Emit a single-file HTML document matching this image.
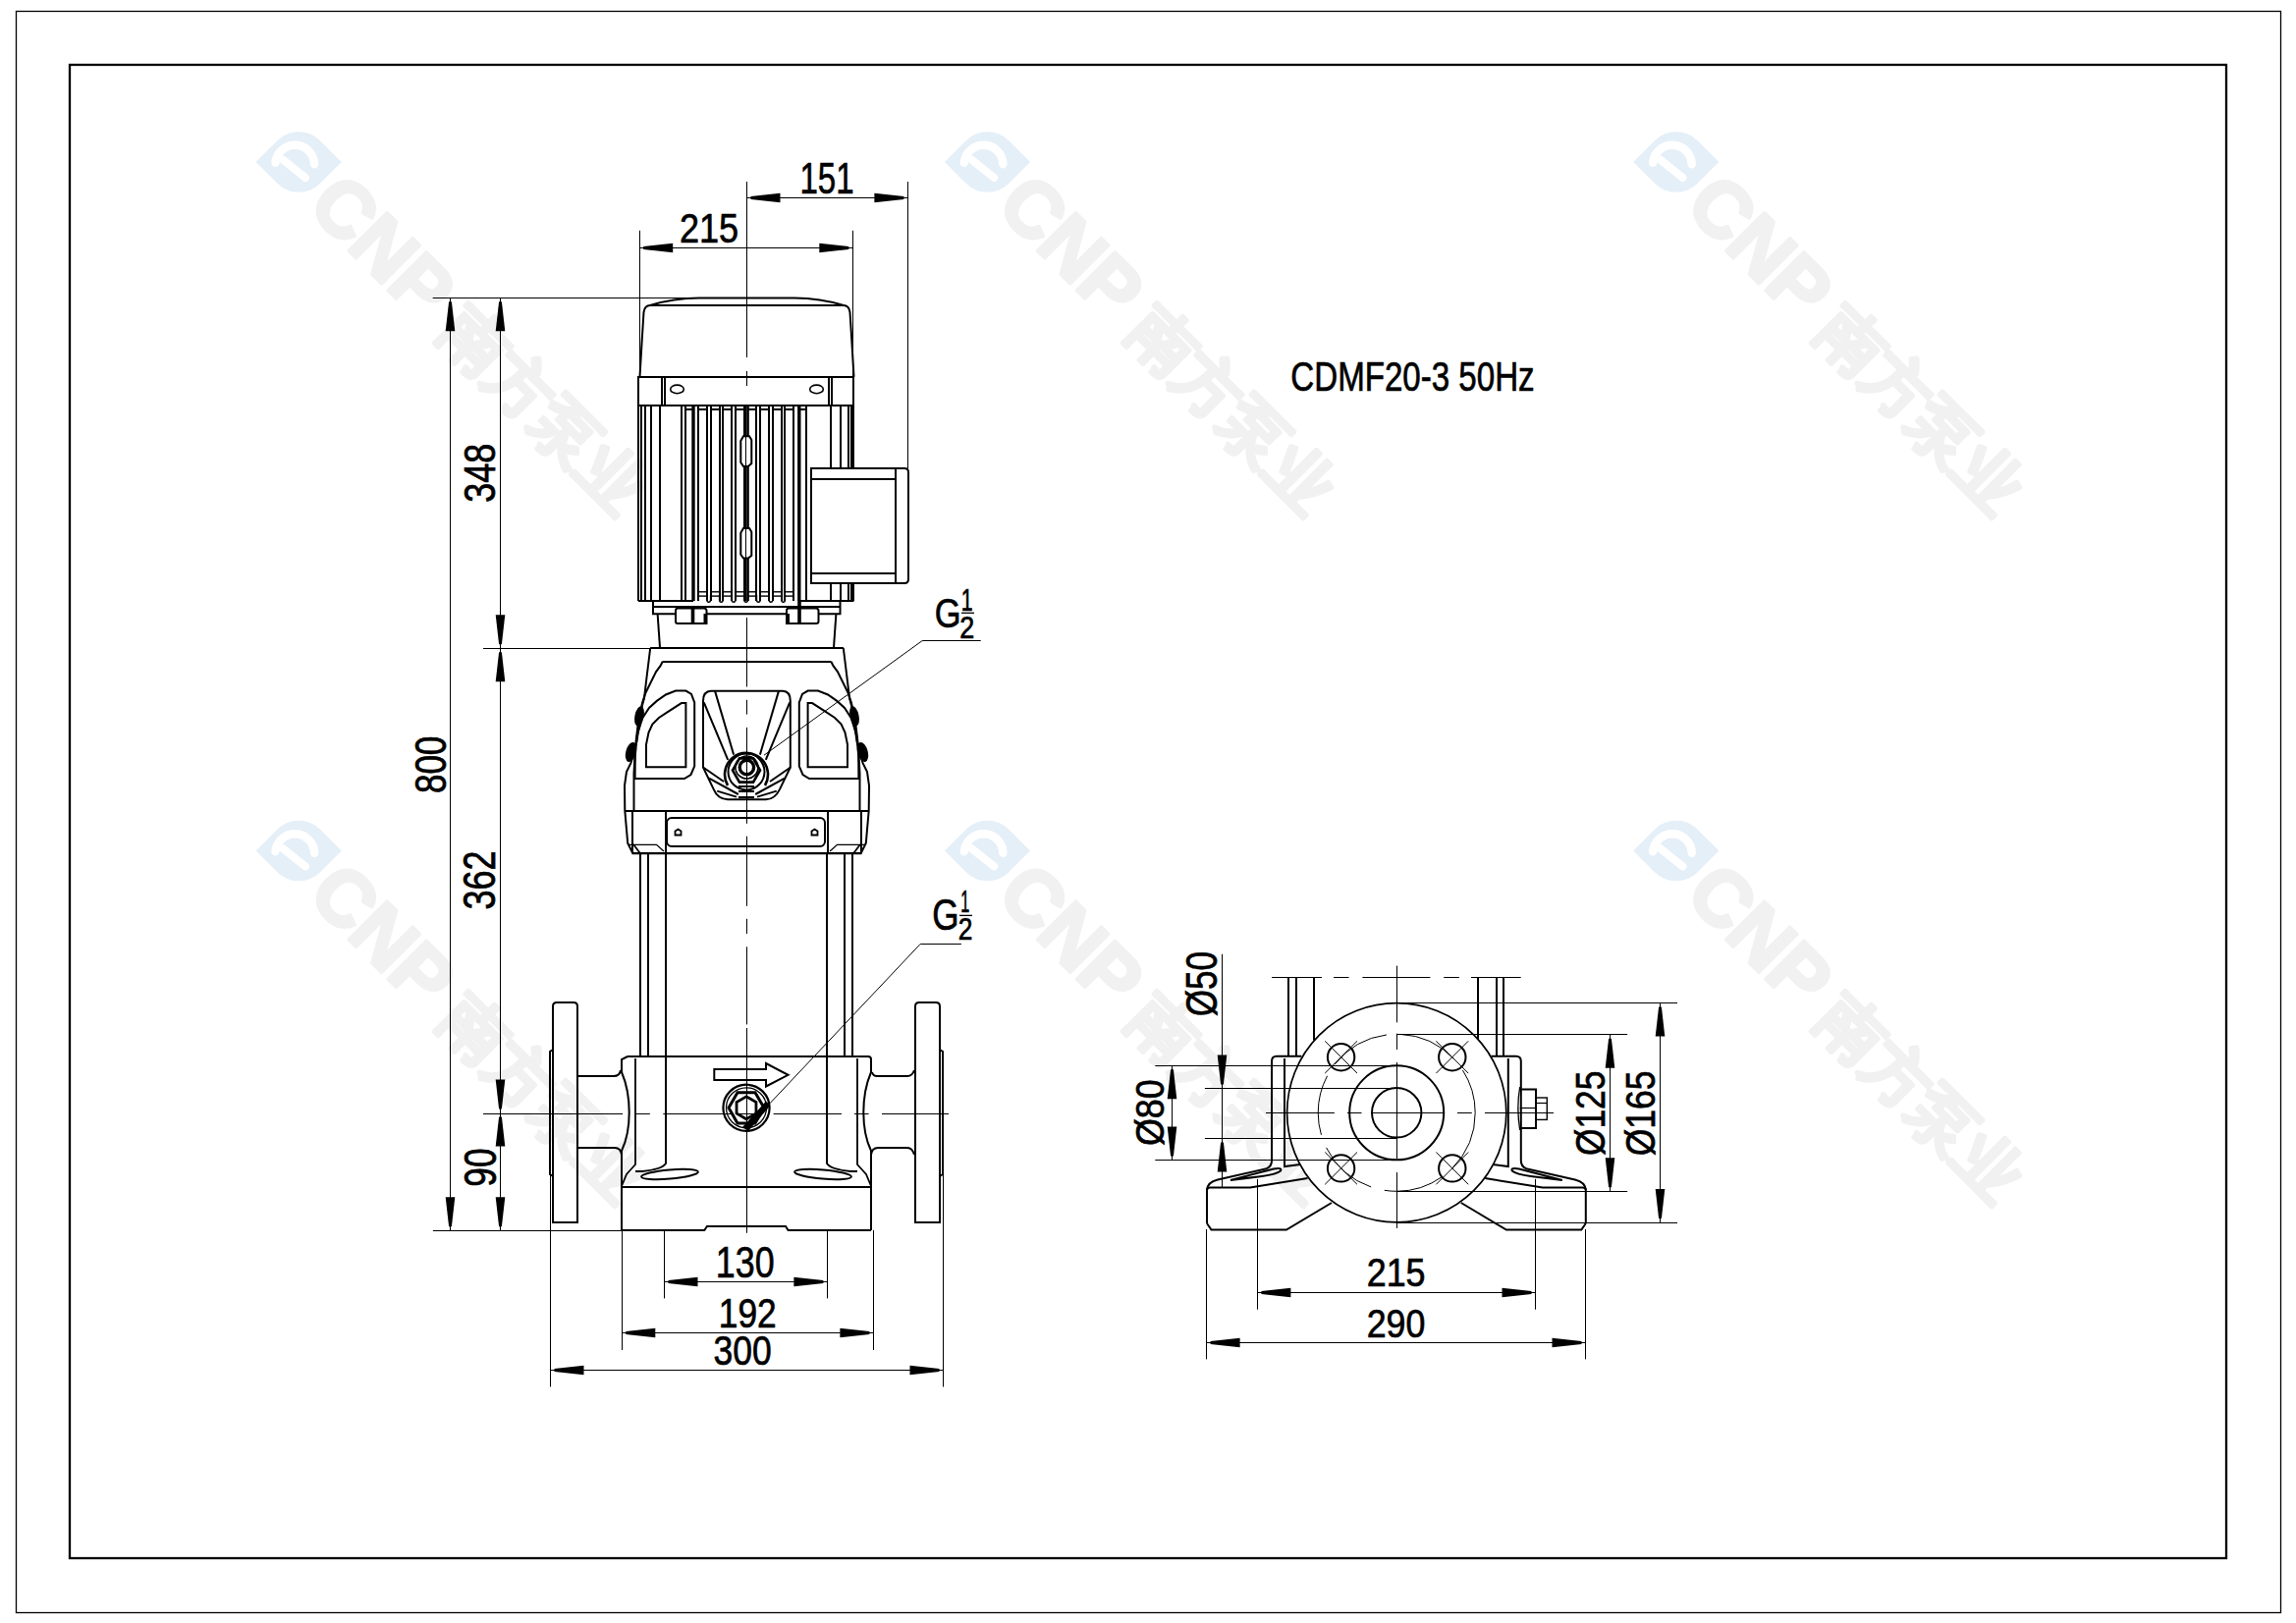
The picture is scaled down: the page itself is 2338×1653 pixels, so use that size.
<!DOCTYPE html>
<html><head><meta charset="utf-8"><style>
html,body{margin:0;padding:0;background:#fff;width:2338px;height:1653px;overflow:hidden}
svg{display:block}
</style></head><body>
<svg width="2338" height="1653" viewBox="0 0 2338 1653">
<rect width="2338" height="1653" fill="#fff"/>
<g transform="translate(304.2,165) rotate(45)">
<path d="M-30.8,30.8 L-30.8,0 A30.8,30.8 0 0 1 0,-30.8 L30.8,-30.8 L30.8,0 A30.8,30.8 0 0 1 0,30.8 Z" fill="#e4eff8" stroke="none"/>
<text x="38" y="28" font-family="Liberation Sans" font-weight="bold" font-size="80" fill="#f1f1f1" stroke="#f1f1f1" stroke-width="3.5" stroke-linejoin="round" letter-spacing="-1">CNP</text>
<text x="222" y="25" font-family="Liberation Sans" font-weight="bold" font-size="66" fill="#f1f1f1" stroke="#f1f1f1" stroke-width="3.5" stroke-linejoin="round">南方泵业</text>
</g>
<g transform="translate(304.2,165)">
<path d="M-23.7,0.7 A19.85,19.85 0 0 1 15.9,2.2" stroke="#fff" stroke-width="8.5" stroke-linecap="round" fill="none"/>
<path d="M-15.9,-2.2 L6.65,15.9" stroke="#fff" stroke-width="8.1" stroke-linecap="round" fill="none"/>
</g>
<g transform="translate(1005.5,165) rotate(45)">
<path d="M-30.8,30.8 L-30.8,0 A30.8,30.8 0 0 1 0,-30.8 L30.8,-30.8 L30.8,0 A30.8,30.8 0 0 1 0,30.8 Z" fill="#e4eff8" stroke="none"/>
<text x="38" y="28" font-family="Liberation Sans" font-weight="bold" font-size="80" fill="#f1f1f1" stroke="#f1f1f1" stroke-width="3.5" stroke-linejoin="round" letter-spacing="-1">CNP</text>
<text x="222" y="25" font-family="Liberation Sans" font-weight="bold" font-size="66" fill="#f1f1f1" stroke="#f1f1f1" stroke-width="3.5" stroke-linejoin="round">南方泵业</text>
</g>
<g transform="translate(1005.5,165)">
<path d="M-23.7,0.7 A19.85,19.85 0 0 1 15.9,2.2" stroke="#fff" stroke-width="8.5" stroke-linecap="round" fill="none"/>
<path d="M-15.9,-2.2 L6.65,15.9" stroke="#fff" stroke-width="8.1" stroke-linecap="round" fill="none"/>
</g>
<g transform="translate(1706.8,165) rotate(45)">
<path d="M-30.8,30.8 L-30.8,0 A30.8,30.8 0 0 1 0,-30.8 L30.8,-30.8 L30.8,0 A30.8,30.8 0 0 1 0,30.8 Z" fill="#e4eff8" stroke="none"/>
<text x="38" y="28" font-family="Liberation Sans" font-weight="bold" font-size="80" fill="#f1f1f1" stroke="#f1f1f1" stroke-width="3.5" stroke-linejoin="round" letter-spacing="-1">CNP</text>
<text x="222" y="25" font-family="Liberation Sans" font-weight="bold" font-size="66" fill="#f1f1f1" stroke="#f1f1f1" stroke-width="3.5" stroke-linejoin="round">南方泵业</text>
</g>
<g transform="translate(1706.8,165)">
<path d="M-23.7,0.7 A19.85,19.85 0 0 1 15.9,2.2" stroke="#fff" stroke-width="8.5" stroke-linecap="round" fill="none"/>
<path d="M-15.9,-2.2 L6.65,15.9" stroke="#fff" stroke-width="8.1" stroke-linecap="round" fill="none"/>
</g>
<g transform="translate(304.2,866.5) rotate(45)">
<path d="M-30.8,30.8 L-30.8,0 A30.8,30.8 0 0 1 0,-30.8 L30.8,-30.8 L30.8,0 A30.8,30.8 0 0 1 0,30.8 Z" fill="#e4eff8" stroke="none"/>
<text x="38" y="28" font-family="Liberation Sans" font-weight="bold" font-size="80" fill="#f1f1f1" stroke="#f1f1f1" stroke-width="3.5" stroke-linejoin="round" letter-spacing="-1">CNP</text>
<text x="222" y="25" font-family="Liberation Sans" font-weight="bold" font-size="66" fill="#f1f1f1" stroke="#f1f1f1" stroke-width="3.5" stroke-linejoin="round">南方泵业</text>
</g>
<g transform="translate(304.2,866.5)">
<path d="M-23.7,0.7 A19.85,19.85 0 0 1 15.9,2.2" stroke="#fff" stroke-width="8.5" stroke-linecap="round" fill="none"/>
<path d="M-15.9,-2.2 L6.65,15.9" stroke="#fff" stroke-width="8.1" stroke-linecap="round" fill="none"/>
</g>
<g transform="translate(1005.5,866.5) rotate(45)">
<path d="M-30.8,30.8 L-30.8,0 A30.8,30.8 0 0 1 0,-30.8 L30.8,-30.8 L30.8,0 A30.8,30.8 0 0 1 0,30.8 Z" fill="#e4eff8" stroke="none"/>
<text x="38" y="28" font-family="Liberation Sans" font-weight="bold" font-size="80" fill="#f1f1f1" stroke="#f1f1f1" stroke-width="3.5" stroke-linejoin="round" letter-spacing="-1">CNP</text>
<text x="222" y="25" font-family="Liberation Sans" font-weight="bold" font-size="66" fill="#f1f1f1" stroke="#f1f1f1" stroke-width="3.5" stroke-linejoin="round">南方泵业</text>
</g>
<g transform="translate(1005.5,866.5)">
<path d="M-23.7,0.7 A19.85,19.85 0 0 1 15.9,2.2" stroke="#fff" stroke-width="8.5" stroke-linecap="round" fill="none"/>
<path d="M-15.9,-2.2 L6.65,15.9" stroke="#fff" stroke-width="8.1" stroke-linecap="round" fill="none"/>
</g>
<g transform="translate(1706.8,866.5) rotate(45)">
<path d="M-30.8,30.8 L-30.8,0 A30.8,30.8 0 0 1 0,-30.8 L30.8,-30.8 L30.8,0 A30.8,30.8 0 0 1 0,30.8 Z" fill="#e4eff8" stroke="none"/>
<text x="38" y="28" font-family="Liberation Sans" font-weight="bold" font-size="80" fill="#f1f1f1" stroke="#f1f1f1" stroke-width="3.5" stroke-linejoin="round" letter-spacing="-1">CNP</text>
<text x="222" y="25" font-family="Liberation Sans" font-weight="bold" font-size="66" fill="#f1f1f1" stroke="#f1f1f1" stroke-width="3.5" stroke-linejoin="round">南方泵业</text>
</g>
<g transform="translate(1706.8,866.5)">
<path d="M-23.7,0.7 A19.85,19.85 0 0 1 15.9,2.2" stroke="#fff" stroke-width="8.5" stroke-linecap="round" fill="none"/>
<path d="M-15.9,-2.2 L6.65,15.9" stroke="#fff" stroke-width="8.1" stroke-linecap="round" fill="none"/>
</g>
<g stroke="#000" fill="none" stroke-linecap="butt" font-family="Liberation Sans" >
<rect x="16.5" y="11.5" width="2306" height="1631" fill="none" stroke="#000" stroke-width="1.3"/>
<rect x="71" y="66" width="2196" height="1521" fill="none" stroke="#000" stroke-width="2.3"/>
<g fill="#000" stroke="none">
<text fill="#000" stroke="#000" stroke-width="0.7" transform="translate(1314.32,398.39) scale(0.7945,1)" font-size="41.67" >CDMF20-3 50Hz</text>
</g>
</g>
<g stroke="#000" fill="none" font-family="Liberation Sans">
<path d="M651.5,383.7 L653.5,350 L655.5,318 Q656.5,311 662,311 L859,311 Q864.5,311 865.5,318 L867.5,350 L869.5,383.7" stroke-width="2" fill="none" />
<path d="M662,311 C676,306.5 690,303.4 712,303.4 L809,303.4 C831,303.4 845,306.5 859,311" stroke-width="2" fill="none" />
<rect x="650" y="384" width="219" height="29" rx="0" stroke-width="2" fill="none" />
<line x1="674" y1="383.7" x2="674" y2="413" stroke-width="2" />
<line x1="677" y1="383.7" x2="677" y2="413" stroke-width="2" />
<line x1="844" y1="383.7" x2="844" y2="413" stroke-width="2" />
<line x1="847" y1="383.7" x2="847" y2="413" stroke-width="2" />
<ellipse cx="689.5" cy="396.4" rx="6.8" ry="4.3" fill="none" stroke-width="1.6"/>
<ellipse cx="831.5" cy="396.4" rx="6.8" ry="4.3" fill="none" stroke-width="1.6"/>
<line x1="650" y1="413" x2="650" y2="612" stroke-width="2" />
<line x1="869" y1="413" x2="869" y2="612" stroke-width="2" />
<line x1="650" y1="612" x2="706" y2="612" stroke-width="2" />
<line x1="813.8" y1="612" x2="869.4" y2="612" stroke-width="2" />
<line x1="653" y1="413" x2="653" y2="612" stroke-width="2" />
<line x1="657" y1="413" x2="657" y2="612" stroke-width="2" />
<line x1="663" y1="413" x2="663" y2="612" stroke-width="2" />
<line x1="672" y1="413" x2="672" y2="612" stroke-width="2" />
<line x1="694" y1="413" x2="694" y2="612" stroke-width="2" />
<line x1="698" y1="413" x2="698" y2="612" stroke-width="2" />
<line x1="706" y1="413" x2="706" y2="612" stroke-width="3.4" />
<line x1="846" y1="413" x2="846" y2="477" stroke-width="2" />
<line x1="846" y1="594" x2="846" y2="612" stroke-width="2" />
<line x1="856" y1="413" x2="856" y2="477" stroke-width="2" />
<line x1="856" y1="594" x2="856" y2="612" stroke-width="2" />
<line x1="864" y1="413" x2="864" y2="477" stroke-width="2" />
<line x1="864" y1="594" x2="864" y2="612" stroke-width="2" />
<line x1="867" y1="413" x2="867" y2="477" stroke-width="2" />
<line x1="867" y1="594" x2="867" y2="612" stroke-width="2" />
<line x1="813.8" y1="413" x2="813.8" y2="612" stroke-width="3.4" />
<line x1="821" y1="413" x2="821" y2="612" stroke-width="2" />
<line x1="711" y1="413" x2="711" y2="612" stroke-width="2" />
<line x1="720" y1="413" x2="720" y2="612" stroke-width="2" />
<line x1="710.9" y1="417" x2="719.9" y2="417" stroke-width="2" />
<line x1="710.9" y1="602.8" x2="719.9" y2="602.8" stroke-width="1.4" />
<line x1="710.9" y1="607.1" x2="719.9" y2="607.1" stroke-width="1.4" />
<path d="M719.9,606 L719.9,611 Q719.9,613.3 721.9,613.3 L721.55,613.3 Q723.55,613.3 723.55,611 L723.55,606" stroke-width="1.4" fill="none" />
<line x1="724" y1="413" x2="724" y2="612" stroke-width="2" />
<line x1="733" y1="413" x2="733" y2="612" stroke-width="2" />
<line x1="723.55" y1="417" x2="732.55" y2="417" stroke-width="2" />
<line x1="723.55" y1="602.8" x2="732.55" y2="602.8" stroke-width="1.4" />
<line x1="723.55" y1="607.1" x2="732.55" y2="607.1" stroke-width="1.4" />
<path d="M732.55,606 L732.55,611 Q732.55,613.3 734.55,613.3 L734.2,613.3 Q736.2,613.3 736.2,611 L736.2,606" stroke-width="1.4" fill="none" />
<line x1="736" y1="413" x2="736" y2="612" stroke-width="2" />
<line x1="745" y1="413" x2="745" y2="612" stroke-width="2" />
<line x1="736.2" y1="417" x2="745.2" y2="417" stroke-width="2" />
<line x1="736.2" y1="602.8" x2="745.2" y2="602.8" stroke-width="1.4" />
<line x1="736.2" y1="607.1" x2="745.2" y2="607.1" stroke-width="1.4" />
<path d="M745.2,606 L745.2,611 Q745.2,613.3 747.2,613.3 L746.85,613.3 Q748.85,613.3 748.85,611 L748.85,606" stroke-width="1.4" fill="none" />
<line x1="749" y1="413" x2="749" y2="612" stroke-width="2" />
<line x1="758" y1="413" x2="758" y2="612" stroke-width="2" />
<line x1="748.85" y1="417" x2="757.85" y2="417" stroke-width="2" />
<line x1="748.85" y1="602.8" x2="757.85" y2="602.8" stroke-width="1.4" />
<line x1="748.85" y1="607.1" x2="757.85" y2="607.1" stroke-width="1.4" />
<path d="M757.85,606 L757.85,611 Q757.85,613.3 759.85,613.3 L759.5,613.3 Q761.5,613.3 761.5,611 L761.5,606" stroke-width="1.4" fill="none" />
<line x1="761.5" y1="413" x2="761.5" y2="612" stroke-width="2.6" />
<line x1="770" y1="413" x2="770" y2="612" stroke-width="2" />
<line x1="761.5" y1="417" x2="770.5" y2="417" stroke-width="2" />
<line x1="761.5" y1="602.8" x2="770.5" y2="602.8" stroke-width="1.4" />
<line x1="761.5" y1="607.1" x2="770.5" y2="607.1" stroke-width="1.4" />
<path d="M770.5,606 L770.5,611 Q770.5,613.3 772.5,613.3 L772.15,613.3 Q774.15,613.3 774.15,611 L774.15,606" stroke-width="1.4" fill="none" />
<line x1="774" y1="413" x2="774" y2="612" stroke-width="2" />
<line x1="783" y1="413" x2="783" y2="612" stroke-width="2" />
<line x1="774.15" y1="417" x2="783.15" y2="417" stroke-width="2" />
<line x1="774.15" y1="602.8" x2="783.15" y2="602.8" stroke-width="1.4" />
<line x1="774.15" y1="607.1" x2="783.15" y2="607.1" stroke-width="1.4" />
<path d="M783.15,606 L783.15,611 Q783.15,613.3 785.15,613.3 L784.8,613.3 Q786.8,613.3 786.8,611 L786.8,606" stroke-width="1.4" fill="none" />
<line x1="787" y1="413" x2="787" y2="612" stroke-width="2" />
<line x1="796" y1="413" x2="796" y2="612" stroke-width="2" />
<line x1="786.8" y1="417" x2="795.8" y2="417" stroke-width="2" />
<line x1="786.8" y1="602.8" x2="795.8" y2="602.8" stroke-width="1.4" />
<line x1="786.8" y1="607.1" x2="795.8" y2="607.1" stroke-width="1.4" />
<path d="M795.8,606 L795.8,611 Q795.8,613.3 797.8,613.3 L797.45,613.3 Q799.45,613.3 799.45,611 L799.45,606" stroke-width="1.4" fill="none" />
<line x1="799" y1="413" x2="799" y2="612" stroke-width="2" />
<line x1="808" y1="413" x2="808" y2="612" stroke-width="2" />
<line x1="799.45" y1="417" x2="808.45" y2="417" stroke-width="2" />
<line x1="799.45" y1="602.8" x2="808.45" y2="602.8" stroke-width="1.4" />
<line x1="799.45" y1="607.1" x2="808.45" y2="607.1" stroke-width="1.4" />
<line x1="698.2" y1="417" x2="706" y2="417" stroke-width="2" />
<line x1="813.8" y1="417" x2="821" y2="417" stroke-width="2" />
<path d="M757,444.3 L763,444.3 L765.3,448 L765.3,472 L762,474.9 L757,474.9 L754.3,471 L754.3,449 Z" stroke-width="2"  fill="#fff"/>
<path d="M757,538 L763,538 L765.3,541.7 L765.3,565.7 L762,568.6 L757,568.6 L754.3,564.7 L754.3,542.7 Z" stroke-width="2"  fill="#fff"/>
<line x1="759.5" y1="413" x2="759.5" y2="612" stroke-width="1" />
<path d="M826,477 L921,477 Q925,477 925,481 L925,590 Q925,594 921,594 L826,594 Z" stroke-width="2"  fill="#fff"/>
<line x1="826" y1="488" x2="912" y2="488" stroke-width="2" />
<line x1="826" y1="584" x2="912" y2="584" stroke-width="2" />
<line x1="912" y1="477" x2="912" y2="594" stroke-width="2" />
<path d="M665,612 L665,625.3 L855.5,625.3 L855.5,612" stroke-width="2" fill="none" />
<line x1="665" y1="618" x2="855.5" y2="618" stroke-width="2" />
<path d="M690,619.5 L717,619.5 Q719.5,619.5 719.5,622 L719.5,635 L690,635 Q688,635 688,633 L688,622 Q688,619.5 690,619.5 Z" stroke-width="2"  fill="#fff"/>
<line x1="705.5" y1="618" x2="705.5" y2="635" stroke-width="3.6" />
<line x1="718" y1="625" x2="718" y2="635" stroke-width="3" />
<path d="M803,619.5 L831,619.5 Q833.5,619.5 833.5,622 L833.5,633 Q833.5,635 831,635 L801,635 L801,622 Q801,619.5 803,619.5 Z" stroke-width="2"  fill="#fff"/>
<line x1="814" y1="612" x2="814" y2="635" stroke-width="3.6" />
<line x1="802.5" y1="625" x2="802.5" y2="635" stroke-width="3" />
<line x1="669.6" y1="625.3" x2="672" y2="659.5" stroke-width="2" />
<line x1="851.4" y1="625.3" x2="849" y2="659.5" stroke-width="2" />
<polyline points="662.2,660 658.5,690 656,711 653,722 648.5,755 642.5,777 638,786 636,800 636.3,825.5 639.2,858.8 644.4,869.2 876.6,869.2 881.8,858.8 884.7,825.5 885,800 883,786 878.5,777 872.5,755 868,722 865,711 862.5,690 858.8,660" stroke-width="2" fill="none" />
<line x1="662.1" y1="660" x2="858.9" y2="660" stroke-width="2" />
<polyline points="674.6,674 672.5,678.2 668.1,684.1 663.3,693.8 657.4,705.7 654,716 650,735 647,760 645.5,787.8 645.5,825.5" stroke-width="2" fill="none" />
<polyline points="846.4,674 848.5,678.2 852.9,684.1 857.7,693.8 863.6,705.7 867,716 871,735 874,760 875.5,787.8 875.5,825.5" stroke-width="2" fill="none" />
<line x1="674.4" y1="674" x2="846.6" y2="674" stroke-width="2" />
<line x1="636" y1="826" x2="885" y2="826" stroke-width="2" />
<line x1="644" y1="825.5" x2="644" y2="869.2" stroke-width="2" />
<line x1="678" y1="825.5" x2="678" y2="869.2" stroke-width="2" />
<line x1="843" y1="825.5" x2="843" y2="869.2" stroke-width="2" />
<line x1="877" y1="825.5" x2="877" y2="869.2" stroke-width="2" />
<line x1="644.4" y1="869" x2="876.6" y2="869" stroke-width="2" />
<polyline points="640,860.3 668.5,860.3 676,867" stroke-width="1.3" fill="none" />
<polyline points="881,860.3 852.5,860.3 845,867" stroke-width="1.3" fill="none" />
<rect x="679" y="833" width="161" height="29" rx="5" stroke-width="2" fill="none" />
<polygon points="687.5,850.5 687.5,846.5 690.5,844.5 693.5,846.5 693.5,850.5" stroke-width="1.8" fill="none" />
<polyline points="645,860 651.8,869" stroke-width="1.8" fill="none" />
<polyline points="876,860 869.2,869" stroke-width="1.8" fill="none" />
<polygon points="826.5,850.5 826.5,846.5 829.5,844.5 832.5,846.5 832.5,850.5" stroke-width="1.8" fill="none" />
<polygon points="646.6,793 646.8,770 648.5,750 654,731.7 661,721 668.8,713.9 678,707.5 688,703.6 698.4,703.6 704,707 707.2,715.4 707.2,780.4 703.5,789 696.9,793" stroke-width="2" fill="none" />
<polygon points="874.4,793 874.2,770 872.5,750 867,731.7 860,721 852.2,713.9 843,707.5 833,703.6 822.6,703.6 817,707 813.8,715.4 813.8,780.4 817.5,789 824.1,793" stroke-width="2" fill="none" />
<polygon points="658,781.2 658,758.3 660.5,746 664.4,737.6 671,731 679.1,725.7 693.9,716.1 698.4,716.1 698.4,781.2" stroke-width="2" fill="none" />
<polygon points="863,781.2 863,758.3 860.5,746 856.6,737.6 850,731 841.9,725.7 827.1,716.1 822.6,716.1 822.6,781.2" stroke-width="2" fill="none" />
<path d="M724,703.8 L797,703.8 Q804.8,704 804.8,714 L804.8,781.5 L794,803.9 Q789,814.2 780,814.2 L741,814.2 Q731,814.2 726.7,803.9 L716,781.5 L716,714 Q716,704 724,703.8 Z" stroke-width="2" fill="none" />
<line x1="728" y1="703.6" x2="747.1" y2="768.6" stroke-width="2" />
<line x1="793" y1="703.6" x2="773.9" y2="768.6" stroke-width="2" />
<line x1="716.8" y1="715.4" x2="741.2" y2="773.8" stroke-width="2" />
<line x1="804.2" y1="715.4" x2="779.8" y2="773.8" stroke-width="2" />
<polyline points="716,781.5 737,796" stroke-width="2" fill="none" />
<polyline points="805,781.5 784,796" stroke-width="2" fill="none" />
<polyline points="722,792.7 751.8,809" stroke-width="2" fill="none" />
<polyline points="799,792.7 769.2,809" stroke-width="2" fill="none" />
<polyline points="730.2,805.6 750,811.7" stroke-width="1.8" fill="none" />
<polyline points="790.8,805.6 771,811.7" stroke-width="1.8" fill="none" />
<path d="M741,800 A22,22 0 1 1 779,800" stroke-width="2.6" fill="none" />
<polygon points="774,784.5 767,796.62 753,796.62 746,784.5 753,772.38 767,772.38" stroke-width="2.6" fill="none" />
<circle cx="760" cy="786" r="18.5" stroke-width="2" fill="none" />
<circle cx="760.4" cy="781.5" r="11.5" stroke-width="1.6" fill="none" />
<circle cx="760.4" cy="781.5" r="7.2" stroke-width="3.4" fill="none" />
<line x1="752" y1="801" x2="768" y2="801" stroke-width="2" />
<line x1="752" y1="806" x2="768" y2="806" stroke-width="2" />
<line x1="752" y1="812" x2="768" y2="812" stroke-width="2" />
<ellipse cx="651" cy="729.4" rx="4.6" ry="10.3" fill="#000" stroke="none" transform="rotate(12,651,729.4)"/>
<ellipse cx="870" cy="729.4" rx="4.6" ry="10.3" fill="#000" stroke="none" transform="rotate(-12,870,729.4)"/>
<ellipse cx="642.5" cy="766" rx="5.2" ry="10.3" fill="#000" stroke="none" transform="rotate(15,642.5,766)"/>
<ellipse cx="878.5" cy="766" rx="5.2" ry="10.3" fill="#000" stroke="none" transform="rotate(-15,878.5,766)"/>
<line x1="652" y1="869.2" x2="652" y2="1076" stroke-width="2" />
<line x1="660" y1="869.2" x2="660" y2="1076" stroke-width="2" />
<line x1="678" y1="869.2" x2="678" y2="1076" stroke-width="2" />
<line x1="842" y1="869.2" x2="842" y2="1076" stroke-width="2" />
<line x1="860" y1="869.2" x2="860" y2="1076" stroke-width="2" />
<line x1="868" y1="869.2" x2="868" y2="1076" stroke-width="2" />
<path d="M639,1076 L884,1076 Q887,1076 887,1079 L887,1092 Q879.3,1110 879.3,1133 Q879.3,1156 887,1172 L887,1253" stroke-width="2" fill="none" />
<path d="M639,1076 L633,1079 L633,1092 Q640.7,1110 640.7,1133 Q640.7,1156 633,1172 L633,1253" stroke-width="2" fill="none" />
<path d="M873,1078 L873,1186 L882,1196 L887,1208" stroke-width="1.8" fill="none" />
<path d="M647.0,1078 L647.0,1186 L638,1196 L633,1208" stroke-width="1.8" fill="none" />
<line x1="678" y1="1076" x2="678" y2="1185.4" stroke-width="2" />
<line x1="842" y1="1076" x2="842" y2="1185.4" stroke-width="2" />
<path d="M842,1185 Q846,1191 866,1193 L873,1193" stroke-width="1.8" fill="none" />
<path d="M678,1185 Q674,1191 654,1193 L647,1193" stroke-width="1.8" fill="none" />
<ellipse cx="838" cy="1196" rx="29" ry="4.6" fill="none" stroke-width="2" transform="rotate(5,838,1196)"/>
<ellipse cx="682" cy="1196" rx="29" ry="4.6" fill="none" stroke-width="2" transform="rotate(-5,682,1196)"/>
<path d="M633,1209 L887,1209" stroke-width="2" fill="none" />
<path d="M633,1253 L717.3,1253 L720,1249 L800,1249 L802.6,1253 L887,1253" stroke-width="2" fill="none" />
<path d="M888,1092 Q889,1096 893,1096 L924,1096 Q929,1096 931,1090" stroke-width="2" fill="none" />
<path d="M887,1176 Q888,1169 894,1169 L924,1169 Q929,1169 931,1176" stroke-width="2" fill="none" />
<path d="M632,1090 Q631,1096 625,1096 L588,1096" stroke-width="2" fill="none" />
<path d="M633,1176 Q632,1169 626,1169 L588,1169" stroke-width="2" fill="none" />
<path d="M563,1245 L563,1025 Q563,1021 567,1021 L584,1021 Q588,1021 588,1025 L588,1245 Z" stroke-width="2" fill="none" />
<path d="M932,1245 L932,1025 Q932,1021 936,1021 L953,1021 Q957,1021 957,1025 L957,1245 Z" stroke-width="2" fill="none" />
<path d="M563,1069 L560,1071 L560,1196 L563,1198" stroke-width="2" fill="none" />
<path d="M957,1069 L960,1071 L960,1196 L957,1198" stroke-width="2" fill="none" />
<circle cx="760" cy="1128.3" r="23.6" stroke-width="2.2" fill="none" />
<circle cx="760" cy="1128.3" r="20.5" stroke-width="1.3" fill="none" />
<polygon points="778,1128.3 769,1143.89 751,1143.89 742,1128.3 751,1112.71 769,1112.71" stroke-width="3" fill="none" />
<polygon points="769.96,1134.05 760,1139.8 750.04,1134.05 750.04,1122.55 760,1116.8 769.96,1122.55" stroke-width="2.8" fill="none" />
<polygon points="784.5,1126 780,1121.5 756,1148 762,1152" fill="#000" stroke="none"/>
<polygon points="727.3,1089 780,1089 780,1083 802.5,1094.8 780,1106.5 780,1100 727.3,1100" stroke-width="2" fill="none" />
<line x1="1295" y1="995.5" x2="1346" y2="995.5" stroke-width="1" />
<line x1="1358" y1="995.5" x2="1373.6" y2="995.5" stroke-width="1" />
<line x1="1387.4" y1="995.5" x2="1456.4" y2="995.5" stroke-width="1" />
<line x1="1470.2" y1="995.5" x2="1485.8" y2="995.5" stroke-width="1" />
<line x1="1498" y1="995.5" x2="1548.7" y2="995.5" stroke-width="1" />
<line x1="1312" y1="995.5" x2="1312" y2="1075.8" stroke-width="2" />
<line x1="1320" y1="995.5" x2="1320" y2="1075.8" stroke-width="2" />
<line x1="1338" y1="995.5" x2="1338" y2="1059.4" stroke-width="2" />
<line x1="1505" y1="995.5" x2="1505" y2="1059.4" stroke-width="2" />
<line x1="1524" y1="995.5" x2="1524" y2="1075.8" stroke-width="2" />
<line x1="1531" y1="995.5" x2="1531" y2="1075.8" stroke-width="2" />
<path d="M1325.3,1075.8 L1300,1075.8 Q1295,1075.8 1295,1081 L1295,1182 Q1295,1188 1289.7,1190.2 L1240,1201.5 Q1229.5,1204 1229,1212" stroke-width="2" fill="none" />
<path d="M 1518.5 1075.8 L 1543.8 1075.8 Q 1548.8 1075.8 1548.8 1081 L 1548.8 1182 Q 1548.8 1188 1554.1 1190.2 L 1603.8 1201.5 Q 1614.3 1204 1614.8 1212" stroke-width="2" fill="none" />
<path d="M1229,1246 L1229,1212 Q1229,1209.5 1232,1209.5 L1273,1209.5 L1331.5,1200" stroke-width="2" fill="none" />
<path d="M 1614.8 1246 L 1614.8 1212 Q 1614.8 1209.5 1611.8 1209.5 L 1570.8 1209.5 L 1512.3 1200" stroke-width="2" fill="none" />
<path d="M1229,1246 L1233.5,1252.6 L1309.9,1252.6 L1356,1225" stroke-width="2" fill="none" />
<path d="M 1614.8 1246 L 1610.3 1252.6 L 1533.9 1252.6 L 1487.8 1225" stroke-width="2" fill="none" />
<path d="M1308,1078 L1308,1188 L1324,1186" stroke-width="2" fill="none" />
<path d="M 1535.8 1078 L 1535.8 1188 L 1519.8 1186" stroke-width="2" fill="none" />
<path d="M1253,1202 L1297,1190.5 Q1306,1189 1304,1192.5 Q1300,1196 1285,1198 Z" stroke-width="2" fill="none" />
<path d="M 1590.8 1202 L 1546.8 1190.5 Q 1537.8 1189 1539.8 1192.5 Q 1543.8 1196 1558.8 1198 Z" stroke-width="2" fill="none" />
<circle cx="1422.2" cy="1133.3" r="111.6" fill="#fff" stroke-width="1.7"/>
<circle cx="1422.2" cy="1133.3" r="80" stroke-width="1" fill="none" stroke-dasharray="62 14"/>
<circle cx="1422.2" cy="1133.3" r="48" stroke-width="2" fill="none" />
<circle cx="1422.2" cy="1133.3" r="25.2" stroke-width="2" fill="none" />
<circle cx="1365.6" cy="1076.7" r="13.7" stroke-width="2" fill="none" />
<line x1="1349.2" y1="1060.3" x2="1382" y2="1093.1" stroke-width="1" />
<line x1="1349.2" y1="1093.1" x2="1382" y2="1060.3" stroke-width="1" />
<circle cx="1365.6" cy="1189.9" r="13.7" stroke-width="2" fill="none" />
<line x1="1349.2" y1="1173.5" x2="1382" y2="1206.3" stroke-width="1" />
<line x1="1349.2" y1="1206.3" x2="1382" y2="1173.5" stroke-width="1" />
<circle cx="1478.8" cy="1076.7" r="13.7" stroke-width="2" fill="none" />
<line x1="1462.4" y1="1060.3" x2="1495.2" y2="1093.1" stroke-width="1" />
<line x1="1462.4" y1="1093.1" x2="1495.2" y2="1060.3" stroke-width="1" />
<circle cx="1478.8" cy="1189.9" r="13.7" stroke-width="2" fill="none" />
<line x1="1462.4" y1="1173.5" x2="1495.2" y2="1206.3" stroke-width="1" />
<line x1="1462.4" y1="1206.3" x2="1495.2" y2="1173.5" stroke-width="1" />
<path d="M1547.7,1109.4 L1564,1109.4 L1564,1149 L1547.7,1149" stroke-width="2" fill="none" />
<path d="M1547.7,1107 Q1544,1128 1547.7,1151" stroke-width="1.3" fill="none" />
<rect x="1564" y="1118" width="11.3" height="22.4" rx="0" stroke-width="1.4" fill="none" />
<line x1="1564" y1="1123.5" x2="1575.3" y2="1123.5" stroke-width="1.2" />
<line x1="1547.7" y1="1128.5" x2="1564" y2="1128.5" stroke-width="1.2" />
<line x1="1422.5" y1="983.6" x2="1422.5" y2="1041.4" stroke-width="1" />
<line x1="1422.5" y1="1052.6" x2="1422.5" y2="1069" stroke-width="1" />
<line x1="1422.5" y1="1081.9" x2="1422.5" y2="1180.2" stroke-width="1" />
<line x1="1422.5" y1="1194" x2="1422.5" y2="1250.9" stroke-width="1" />
<line x1="1289" y1="1133.5" x2="1358.9" y2="1133.5" stroke-width="1" />
<line x1="1371.9" y1="1133.5" x2="1386.5" y2="1133.5" stroke-width="1" />
<line x1="1396" y1="1133.5" x2="1470" y2="1133.5" stroke-width="1" />
<line x1="1484" y1="1133.5" x2="1498.8" y2="1133.5" stroke-width="1" />
<line x1="1512" y1="1133.5" x2="1582" y2="1133.5" stroke-width="1" />
<line x1="1244.5" y1="971.7" x2="1244.5" y2="1209.2" stroke-width="1" />
<polygon points="1243.1,1104.6 1245.9,1104.6 1249.3,1074.6 1239.7,1074.6" fill="#000" stroke="none"/>
<polygon points="1245.9,1163.5 1243.1,1163.5 1239.7,1193.5 1249.3,1193.5" fill="#000" stroke="none"/>
<line x1="1226.9" y1="1108.5" x2="1422" y2="1108.5" stroke-width="1" />
<line x1="1226.9" y1="1159.5" x2="1422" y2="1159.5" stroke-width="1" />
<text fill="#000" stroke="#000" stroke-width="0.7" transform="translate(1238.84,1035.22) rotate(-90) scale(0.7811,1)" font-size="44.90" >Ø50</text>
<line x1="1193.5" y1="1085.3" x2="1193.5" y2="1181.6" stroke-width="1" />
<polygon points="1194.9,1089.3 1192.1,1089.3 1188.7,1119.3 1198.3,1119.3" fill="#000" stroke="none"/>
<polygon points="1192.1,1177.6 1194.9,1177.6 1198.3,1147.6 1188.7,1147.6" fill="#000" stroke="none"/>
<line x1="1176.3" y1="1085.5" x2="1419.6" y2="1085.5" stroke-width="1" />
<line x1="1176.3" y1="1181.5" x2="1419.6" y2="1181.5" stroke-width="1" />
<text fill="#000" stroke="#000" stroke-width="0.7" transform="translate(1185.44,1167.04) rotate(-90) scale(0.8729,1)" font-size="41.12" >Ø80</text>
<line x1="1639.5" y1="1053.7" x2="1639.5" y2="1213.2" stroke-width="1" />
<polygon points="1640.9,1057.7 1638.1,1057.7 1634.7,1087.7 1644.3,1087.7" fill="#000" stroke="none"/>
<polygon points="1638.1,1209.2 1640.9,1209.2 1644.3,1179.2 1634.7,1179.2" fill="#000" stroke="none"/>
<line x1="1422.5" y1="1053.5" x2="1657.2" y2="1053.5" stroke-width="1" />
<line x1="1422.5" y1="1213.5" x2="1657.2" y2="1213.5" stroke-width="1" />
<text fill="#000" stroke="#000" stroke-width="0.7" transform="translate(1633.69,1177.02) rotate(-90) scale(0.8213,1)" font-size="43.01" >Ø125</text>
<line x1="1690.5" y1="1021.4" x2="1690.5" y2="1245.1" stroke-width="1" />
<polygon points="1691.9,1025.4 1689.1,1025.4 1685.7,1055.4 1695.3,1055.4" fill="#000" stroke="none"/>
<polygon points="1689.1,1241.1 1691.9,1241.1 1695.3,1211.1 1685.7,1211.1" fill="#000" stroke="none"/>
<line x1="1422" y1="1021.5" x2="1708" y2="1021.5" stroke-width="1" />
<line x1="1422" y1="1245.5" x2="1708" y2="1245.5" stroke-width="1" />
<text fill="#000" stroke="#000" stroke-width="0.7" transform="translate(1684.58,1177.23) rotate(-90) scale(0.8216,1)" font-size="43.14" >Ø165</text>
<line x1="1280.5" y1="1200.9" x2="1280.5" y2="1333.7" stroke-width="1" />
<line x1="1563.5" y1="1200.9" x2="1563.5" y2="1333.7" stroke-width="1" />
<line x1="1280.4" y1="1316.5" x2="1563.5" y2="1316.5" stroke-width="1" />
<polygon points="1284.4,1315.1 1284.4,1317.9 1314.4,1321.3 1314.4,1311.7" fill="#000" stroke="none"/>
<polygon points="1559.5,1317.9 1559.5,1315.1 1529.5,1311.7 1529.5,1321.3" fill="#000" stroke="none"/>
<text fill="#000" stroke="#000" stroke-width="0.7" transform="translate(1391.7,1310.2) scale(0.8752,1)" font-size="40.96" >215</text>
<line x1="1228.5" y1="1252" x2="1228.5" y2="1384.4" stroke-width="1" />
<line x1="1614.5" y1="1252" x2="1614.5" y2="1384.4" stroke-width="1" />
<line x1="1228.6" y1="1367.5" x2="1614.5" y2="1367.5" stroke-width="1" />
<polygon points="1232.6,1366.1 1232.6,1368.9 1262.6,1372.3 1262.6,1362.7" fill="#000" stroke="none"/>
<polygon points="1610.5,1368.9 1610.5,1366.1 1580.5,1362.7 1580.5,1372.3" fill="#000" stroke="none"/>
<text fill="#000" stroke="#000" stroke-width="0.7" transform="translate(1391.7,1362.3) scale(0.8735,1)" font-size="40.96" >290</text>
<line x1="440.7" y1="303.5" x2="700" y2="303.5" stroke-width="1" />
<line x1="458.5" y1="303.3" x2="458.5" y2="1253.2" stroke-width="1" />
<polygon points="459.9,307.3 457.1,307.3 453.7,337.3 463.3,337.3" fill="#000" stroke="none"/>
<polygon points="457.1,1249.2 459.9,1249.2 463.3,1219.2 453.7,1219.2" fill="#000" stroke="none"/>
<line x1="509.5" y1="303.3" x2="509.5" y2="1253.2" stroke-width="1" />
<polygon points="510.9,307.3 508.1,307.3 504.7,337.3 514.3,337.3" fill="#000" stroke="none"/>
<polygon points="508.1,656.3 510.9,656.3 514.3,626.3 504.7,626.3" fill="#000" stroke="none"/>
<polygon points="510.9,664.3 508.1,664.3 504.7,694.3 514.3,694.3" fill="#000" stroke="none"/>
<polygon points="508.1,1129.5 510.9,1129.5 514.3,1099.5 504.7,1099.5" fill="#000" stroke="none"/>
<polygon points="510.9,1137.5 508.1,1137.5 504.7,1167.5 514.3,1167.5" fill="#000" stroke="none"/>
<polygon points="508.1,1249.2 510.9,1249.2 514.3,1219.2 504.7,1219.2" fill="#000" stroke="none"/>
<line x1="492" y1="660.5" x2="662" y2="660.5" stroke-width="1" />
<line x1="440.9" y1="1253.5" x2="636" y2="1253.5" stroke-width="1" />
<text fill="#000" stroke="#000" stroke-width="0.7" transform="translate(453.57,808.12) rotate(-90) scale(0.7956,1)" font-size="44.07" >800</text>
<text fill="#000" stroke="#000" stroke-width="0.7" transform="translate(503.57,511.67) rotate(-90) scale(0.8189,1)" font-size="43.78" >348</text>
<text fill="#000" stroke="#000" stroke-width="0.7" transform="translate(504.16,926.57) rotate(-90) scale(0.7943,1)" font-size="45.34" >362</text>
<text fill="#000" stroke="#000" stroke-width="0.7" transform="translate(504.55,1208.65) rotate(-90) scale(0.7731,1)" font-size="45.62" >90</text>
<line x1="760.5" y1="185" x2="760.5" y2="364" stroke-width="1" />
<line x1="760.5" y1="378" x2="760.5" y2="393" stroke-width="1" />
<line x1="924.5" y1="185" x2="924.5" y2="477" stroke-width="1" />
<line x1="760.5" y1="201.5" x2="924.4" y2="201.5" stroke-width="1" />
<polygon points="764.5,200.1 764.5,202.9 794.5,206.3 794.5,196.7" fill="#000" stroke="none"/>
<polygon points="920.4,202.9 920.4,200.1 890.4,196.7 890.4,206.3" fill="#000" stroke="none"/>
<text fill="#000" stroke="#000" stroke-width="0.7" transform="translate(814.48,196.57) scale(0.7437,1)" font-size="44.43" >151</text>
<line x1="651.5" y1="234.8" x2="651.5" y2="383" stroke-width="1" />
<line x1="868.5" y1="234.8" x2="868.5" y2="383" stroke-width="1" />
<line x1="651.2" y1="252.5" x2="868.3" y2="252.5" stroke-width="1" />
<polygon points="655.2,251.1 655.2,253.9 685.2,257.3 685.2,247.7" fill="#000" stroke="none"/>
<polygon points="864.3,253.9 864.3,251.1 834.3,247.7 834.3,257.3" fill="#000" stroke="none"/>
<text fill="#000" stroke="#000" stroke-width="0.7" transform="translate(691.88,246.88) scale(0.8435,1)" font-size="42.80" >215</text>
<line x1="676.5" y1="1253" x2="676.5" y2="1322.4" stroke-width="1" />
<line x1="842.5" y1="1253" x2="842.5" y2="1322.4" stroke-width="1" />
<line x1="676.5" y1="1305.5" x2="842.4" y2="1305.5" stroke-width="1" />
<polygon points="680.5,1304.1 680.5,1306.9 710.5,1310.3 710.5,1300.7" fill="#000" stroke="none"/>
<polygon points="838.4,1306.9 838.4,1304.1 808.4,1300.7 808.4,1310.3" fill="#000" stroke="none"/>
<text fill="#000" stroke="#000" stroke-width="0.7" transform="translate(728.87,1300.56) scale(0.7945,1)" font-size="45.06" >130</text>
<line x1="633.5" y1="1253" x2="633.5" y2="1375" stroke-width="1" />
<line x1="889.5" y1="1253" x2="889.5" y2="1375" stroke-width="1" />
<line x1="633.3" y1="1357.5" x2="889.4" y2="1357.5" stroke-width="1" />
<polygon points="637.3,1356.1 637.3,1358.9 667.3,1362.3 667.3,1352.7" fill="#000" stroke="none"/>
<polygon points="885.4,1358.9 885.4,1356.1 855.4,1352.7 855.4,1362.3" fill="#000" stroke="none"/>
<text fill="#000" stroke="#000" stroke-width="0.7" transform="translate(731.81,1351.68) scale(0.8151,1)" font-size="43.36" >192</text>
<line x1="560.5" y1="1196" x2="560.5" y2="1412.5" stroke-width="1" />
<line x1="960.5" y1="1196" x2="960.5" y2="1412.5" stroke-width="1" />
<line x1="560.5" y1="1395.5" x2="960.5" y2="1395.5" stroke-width="1" />
<polygon points="564.5,1394.1 564.5,1396.9 594.5,1400.3 594.5,1390.7" fill="#000" stroke="none"/>
<polygon points="956.5,1396.9 956.5,1394.1 926.5,1390.7 926.5,1400.3" fill="#000" stroke="none"/>
<text fill="#000" stroke="#000" stroke-width="0.7" transform="translate(726.45,1389.98) scale(0.8215,1)" font-size="43.22" >300</text>
<text fill="#000" stroke="#000" stroke-width="0.7" transform="translate(951.77,639.38) scale(0.8027,1)" font-size="42.94" >G</text>
<text fill="#000" stroke="#000" stroke-width="0.7" transform="translate(978.87,621.7) scale(0.6673,1)" font-size="31.98" >1</text>
<line x1="979" y1="624.3" x2="992" y2="624.3" stroke-width="1.3" />
<text fill="#000" stroke="#000" stroke-width="0.7" transform="translate(977.34,649.8) scale(0.8728,1)" font-size="30.93" >2</text>
<line x1="939.2" y1="652.5" x2="998.7" y2="652.5" stroke-width="1" />
<line x1="939.2" y1="652.5" x2="778" y2="769.2" stroke-width="1" />
<text fill="#000" stroke="#000" stroke-width="0.7" transform="translate(949.24,947.38) scale(0.8063,1)" font-size="43.50" >G</text>
<text fill="#000" stroke="#000" stroke-width="0.7" transform="translate(978.26,928.8) scale(0.5100,1)" font-size="31.83" >1</text>
<line x1="977" y1="932.4" x2="990" y2="932.4" stroke-width="1.3" />
<text fill="#000" stroke="#000" stroke-width="0.7" transform="translate(975.68,957) scale(0.8360,1)" font-size="31.51" >2</text>
<line x1="937.2" y1="961.5" x2="978.9" y2="961.5" stroke-width="1" />
<line x1="937.2" y1="961.4" x2="784" y2="1123.7" stroke-width="1" />
<line x1="760.5" y1="629" x2="760.5" y2="699.5" stroke-width="1" />
<line x1="760.5" y1="712.8" x2="760.5" y2="727.6" stroke-width="1" />
<line x1="760.5" y1="740.9" x2="760.5" y2="838.8" stroke-width="1" />
<line x1="760.5" y1="851.7" x2="760.5" y2="922.8" stroke-width="1" />
<line x1="760.5" y1="935.8" x2="760.5" y2="951" stroke-width="1" />
<line x1="760.5" y1="964.3" x2="760.5" y2="1043.4" stroke-width="1" />
<line x1="760.5" y1="1047" x2="760.5" y2="1255.8" stroke-width="1" />
<line x1="492" y1="1134.5" x2="634.1" y2="1134.5" stroke-width="1" />
<line x1="646.5" y1="1134.5" x2="661.8" y2="1134.5" stroke-width="1" />
<line x1="675.3" y1="1134.5" x2="745.8" y2="1134.5" stroke-width="1" />
<line x1="752" y1="1134.5" x2="768" y2="1134.5" stroke-width="1" />
<line x1="787.6" y1="1134.5" x2="857" y2="1134.5" stroke-width="1" />
<line x1="870" y1="1134.5" x2="884.6" y2="1134.5" stroke-width="1" />
<line x1="898" y1="1134.5" x2="966" y2="1134.5" stroke-width="1" />
</g>
</svg>
</body></html>
